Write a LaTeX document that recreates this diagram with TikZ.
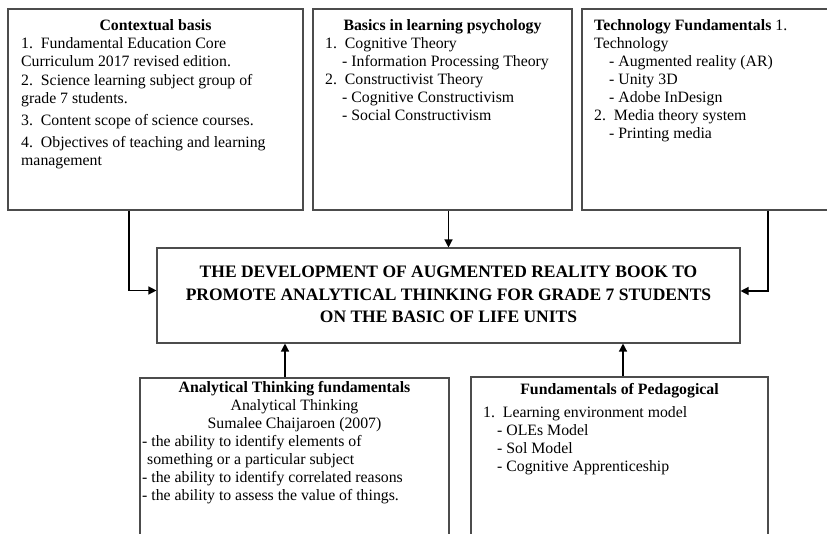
\documentclass[tikz,border=0pt]{standalone}
\usepackage{fontspec}
\setmainfont{Liberation Serif}
\usetikzlibrary{arrows.meta}

\begin{document}
\begin{tikzpicture}[x=1pt,y=-1pt,
    box/.style={draw=black!70,line width=1.1pt,inner sep=0pt},
    head/.style={inner sep=0pt,align=center,anchor=north,font=\fontsize{15.8}{18}\selectfont},
    txt/.style={inner sep=0pt,align=left,anchor=north west,font=\fontsize{15.8}{18}\selectfont},
    link/.style={line width=1.3pt,-{Triangle[length=8pt,width=8pt]}}]
            \useasboundingbox (0,0) rectangle (827,534);
            \clip (0,0) rectangle (827,534);
            \node (ctx) at (155.5,109.5) [box,minimum width=295,minimum height=201] {};
            \node (psy) at (442.5,109.5) [box,minimum width=259,minimum height=201] {};
            \node (tech) at (712,109.5) [box,minimum width=260,minimum height=201] {};
            \node (dev) at (448.5,295.5) [box,minimum width=583,minimum height=95] {};
            \node (ana) at (294.5,464) [box,minimum width=309,minimum height=172] {};
            \node (ped) at (619.5,463.5) [box,minimum width=297,minimum height=173] {};
            \node (ctxhead) at (155.5,19) [head] {\textbf{Contextual basis}};
            \node (ctxtxt) at (21,37) [txt] {1.\enspace Fundamental Education Core\\ Curriculum 2017 revised edition.\\[1pt]
                2.\enspace Science learning subject group of\\ grade 7 students.\\[4pt]
                3.\enspace Content scope of science courses.\\[4pt]
                4.\enspace Objectives of teaching and learning\\ management};
            \node (psyhead) at (442.5,19) [head] {\textbf{Basics in learning psychology}};
            \node (psytxt) at (325,37) [txt] {1.\enspace Cognitive Theory\\ \hspace*{17pt}- Information Processing Theory\\
                2.\enspace Constructivist Theory\\ \hspace*{17pt}- Cognitive Constructivism\\ \hspace*{17pt}- Social Constructivism};
            \node (techtxt) at (594,19) [txt] {\textbf{Technology Fundamentals} 1.\\ Technology\\
                \hspace*{15pt}- Augmented reality (AR)\\ \hspace*{15pt}- Unity 3D\\ \hspace*{15pt}- Adobe InDesign\\
                2.\enspace Media theory system\\ \hspace*{15pt}- Printing media};
            \node (devtxt) at (448.5,294.5) [inner sep=0pt,align=center,font=\fontsize{17.5}{22.5}\selectfont\bfseries]
                {THE DEVELOPMENT OF AUGMENTED REALITY BOOK TO\\ PROMOTE ANALYTICAL THINKING FOR GRADE 7 STUDENTS\\ ON THE BASIC OF LIFE UNITS};
            \node (anahead) at (294.5,381) [head] {\textbf{Analytical Thinking fundamentals}\\ Analytical Thinking\\ Sumalee Chaijaroen (2007)};
            \node (anatxt) at (142,435) [txt] {- the ability to identify elements of\\ \hspace*{5pt}something or a particular subject\\
                - the ability to identify correlated reasons\\ - the ability to assess the value of things.};
            \node (pedhead) at (619.5,383) [head] {\textbf{Fundamentals of Pedagogical}};
            \node (pedtxt) at (483,406) [txt] {1.\enspace Learning environment model\\ \hspace*{14pt}- OLEs Model\\
                \hspace*{14pt}- Sol Model\\ \hspace*{14pt}- Cognitive Apprenticeship};
            \coordinate (lbend) at (129,290.5);
            \coordinate (rbend) at (768,291);
            \coordinate (lup) at (285,0);
            \coordinate (rup) at (623,0);
            \draw[link] (ctx.south -| lbend) -- (lbend) -- (dev.west |- lbend);
            \draw[link] (psy.south -| dev.north) -- (dev.north);
            \draw[link] (tech.south -| rbend) -- (rbend) -- (dev.east |- rbend);
            \draw[link] (ana.north -| lup) -- (dev.south -| lup);
            \draw[link] (ped.north -| rup) -- (dev.south -| rup);
        \end{tikzpicture}
\end{document}
